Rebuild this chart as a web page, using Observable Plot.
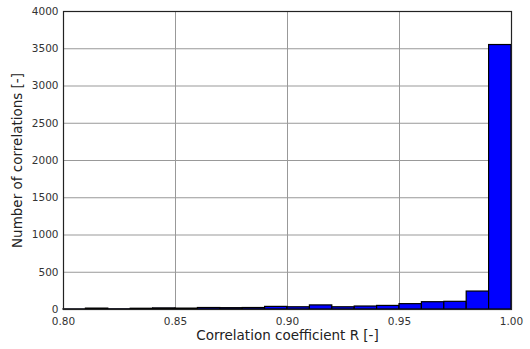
<!DOCTYPE html>
<html>
<head>
<meta charset="utf-8">
<script src="https://cdn.jsdelivr.net/npm/d3@7"></script>
<script src="https://cdn.jsdelivr.net/npm/@observablehq/plot@0.6"></script>
<style>
  html, body { margin: 0; padding: 0; background: #fff; }
  #chart svg { font-family: "DejaVu Sans", sans-serif; }
</style>
</head>
<body>
<div id="chart"></div>
<script>
// Histogram bins (left edge) and counts
const binStart = [0.80, 0.81, 0.82, 0.83, 0.84, 0.85, 0.86, 0.87, 0.88, 0.89,
                  0.90, 0.91, 0.92, 0.93, 0.94, 0.95, 0.96, 0.97, 0.98, 0.99];
const counts   = [2, 12, 3, 10, 15, 12, 20, 18, 20, 35,
                  30, 55, 30, 40, 48, 72, 98, 103, 241, 3550];
const binWidth = 0.01;
const xTicks = [0.80, 0.85, 0.90, 0.95, 1.00];
const yTicks = [0, 500, 1000, 1500, 2000, 2500, 3000, 3500, 4000];
const xLabel = "Correlation coefficient R [-]";
const yLabel = "Number of correlations [-]";

const bins = binStart.map((b, i) => ({x1: b, x2: b + binWidth, count: counts[i]}));

const chart = Plot.plot({
  width: 530,
  height: 349,
  marginLeft: 63,
  marginRight: 19,
  marginTop: 11,
  marginBottom: 40,
  style: {fontFamily: "DejaVu Sans, sans-serif", fontSize: "10px", color: "#333", background: "#fff"},
  x: {domain: [0.8, 1.0]},
  y: {domain: [0, 4000]},
  marks: [
    Plot.gridX(xTicks, {stroke: "#999", strokeOpacity: 1, strokeWidth: 1}),
    Plot.gridY(yTicks, {stroke: "#999", strokeOpacity: 1, strokeWidth: 1}),
    Plot.rectY(bins, {x1: "x1", x2: "x2", y: "count", fill: "#0000ff", stroke: "#000", strokeWidth: 1.2, inset: 0}),
    Plot.frame({stroke: "#222", strokeWidth: 1.2}),
    Plot.axisX(xTicks, {tickFormat: d3.format(".2f"), tickSize: 0, tickPadding: 8, fill: "#333", label: null, fontSize: 10.5}),
    Plot.axisY(yTicks, {tickFormat: d => String(d), tickSize: 0, tickPadding: 5, fill: "#333", label: null, fontSize: 10.5}),
    Plot.text([xLabel], {frameAnchor: "bottom", dy: 30, fontSize: 13.5, fill: "#222"}),
    Plot.text([yLabel], {frameAnchor: "left", dx: -46, rotate: -90, textAnchor: "middle", fontSize: 13.5, fill: "#222"})
  ]
});
document.getElementById("chart").appendChild(chart);
</script>
</body>
</html>
